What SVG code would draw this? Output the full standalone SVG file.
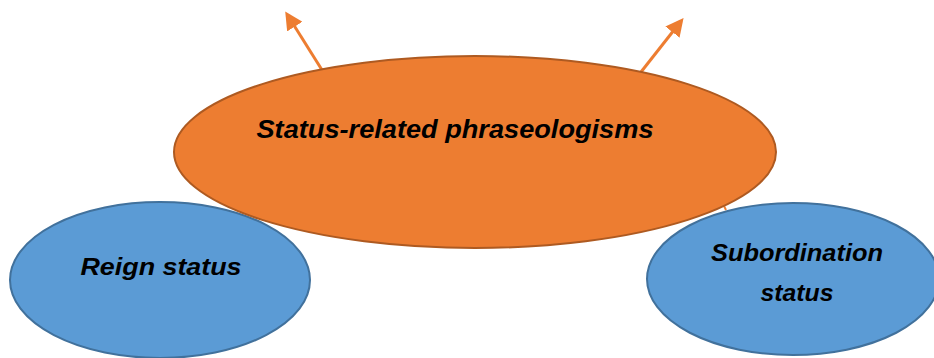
<svg xmlns="http://www.w3.org/2000/svg" width="934" height="358" viewBox="0 0 934 358">
<style>
.blue{fill:#5B9BD5;stroke:#41719C;stroke-width:2}
.orange{fill:#ED7D31;stroke:#AE5A21;stroke-width:2}
.lbl{font-family:"Liberation Sans",Arial,sans-serif;font-weight:bold;font-style:italic;fill:#000}
.arr{stroke:#ED7D31;stroke-width:3;fill:none}
</style>
<defs>
<marker id="ah" markerWidth="6" markerHeight="6" refX="3" refY="3" orient="auto" markerUnits="strokeWidth">
<path d="M0,0 L6,3 L0,6 Z" fill="#ED7D31"/>
</marker>
</defs>
<g id="reign">
<ellipse class="blue" cx="160" cy="280" rx="150" ry="78"/>
<text class="lbl" x="161" y="275" font-size="24" text-anchor="middle" textLength="161" lengthAdjust="spacingAndGlyphs">Reign status</text>
</g>
<g id="subordination">
<ellipse class="blue" cx="793" cy="279" rx="146" ry="76"/>
<text class="lbl" x="797" y="261" font-size="24" text-anchor="middle" textLength="172" lengthAdjust="spacingAndGlyphs">Subordination</text>
<text class="lbl" x="797" y="301" font-size="24" text-anchor="middle" textLength="73" lengthAdjust="spacingAndGlyphs">status</text>
</g>
<g id="connectors">
<line class="arr" x1="322" y1="70" x2="290" y2="19" marker-end="url(#ah)"/>
<line class="arr" x1="641" y1="72" x2="678" y2="25" marker-end="url(#ah)"/>
<line x1="240" y1="210" x2="243" y2="213" stroke="#AE5A21" stroke-width="2"/>
<line x1="724" y1="206" x2="726" y2="210" stroke="#ED7D31" stroke-width="2"/>
</g>
<g id="status">
<ellipse class="orange" cx="475" cy="152" rx="301" ry="96"/>
<text class="lbl" x="455" y="138" font-size="25" text-anchor="middle" textLength="397" lengthAdjust="spacingAndGlyphs">Status-related phraseologisms</text>
</g>
</svg>
